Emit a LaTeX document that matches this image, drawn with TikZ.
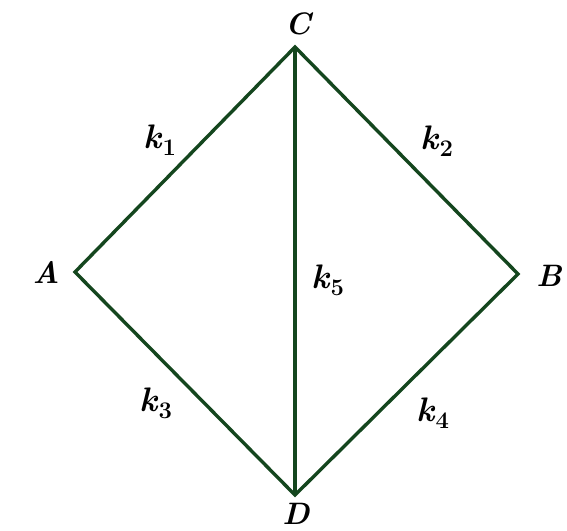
\documentclass[tikz,border=0pt]{standalone}
\usepackage{amsmath,amssymb}
\usetikzlibrary{positioning}
\definecolor{edgegreen}{RGB}{20,70,30}
\newcommand{\kname}[1]{\textit{k}\textsubscript{#1}}

\begin{document}
\begin{tikzpicture}[x=1pt,y=-1pt,
  edge/.style={draw=edgegreen,line width=3.4pt,line join=miter},
  vlabel/.style={font=\fontsize{31}{33}\selectfont\bfseries\itshape,inner sep=0pt},
  klabel/.style={font=\fontsize{34}{36}\selectfont\bfseries,inner sep=0pt}]
\useasboundingbox (0,0) rectangle (567,530);
\coordinate (C) at (295,47);
\coordinate (A) at (75,272);
\coordinate (B) at (518,274);
\coordinate (D) at (295,495);
\node[vlabel] (lc) at (298,24) {C};
\node[vlabel] (la) at (46,272) {A};
\node[vlabel] (lb) at (549,276) {B};
\node[vlabel] (ld) at (296,514) {D};
\draw[edge] (C) -- (A) -- (D) -- (B) -- cycle;
\draw[edge] (C) -- (D);
\node[klabel] (k1) at (160,140) {\kname{1}};
\node[klabel] (k2) at (437,141) {\kname{2}};
\node[klabel] (k3) at (156,403) {\kname{3}};
\node[klabel] (k4) at (433,413) {\kname{4}};
\node[klabel] (k5) at (328,280) {\kname{5}};
\end{tikzpicture}
\end{document}
